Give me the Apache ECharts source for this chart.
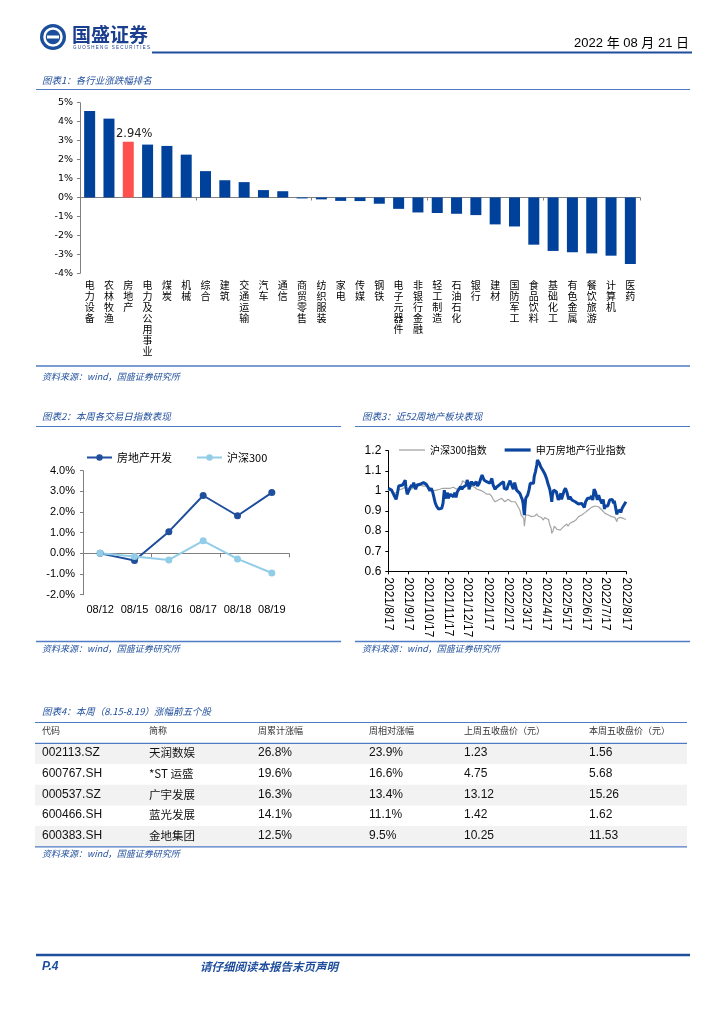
<!DOCTYPE html>
<html><head><meta charset="utf-8">
<script src="https://cdn.jsdelivr.net/npm/echarts@6/dist/echarts.min.js"></script>
<style>html,body{margin:0;padding:0;background:#fff}#c{width:724px;height:1024px}</style>
</head><body><div id="c"></div>
<script>
// ---------- Data ----------
const industries = ['电力设备','农林牧渔','房地产','电力及公用事业','煤炭','机械','综合','建筑','交通运输','汽车','通信','商贸零售','纺织服装','家电','传媒','钢铁','电子元器件','非银行金融','轻工制造','石油石化','银行','建材','国防军工','食品饮料','基础化工','有色金属','餐饮旅游','计算机','医药'];
const industryChange = [4.56,4.16,2.94,2.79,2.72,2.26,1.39,0.91,0.81,0.39,0.33,-0.05,-0.10,-0.18,-0.19,-0.33,-0.60,-0.79,-0.82,-0.86,-0.93,-1.42,-1.53,-2.49,-2.82,-2.89,-2.95,-3.07,-3.51];
const highlightIndustry = '房地产';
const chart1YTicks = [-4,5,1];

const weekDays = ['08/12','08/15','08/16','08/17','08/18','08/19'];
const realEstateDev = [0,-0.35,1.05,2.80,1.82,2.94];
const hs300Week = [0,-0.15,-0.32,0.61,-0.27,-0.95];

const monthTicks = ['2021/8/17','2021/9/17','2021/10/17','2021/11/17','2021/12/17','2022/1/17','2022/2/17','2022/3/17','2022/4/17','2022/5/17','2022/6/17','2022/7/17','2022/8/17'];
// [days since 2021/8/17, value]
const hs300Index = [[0,1.001],[3,0.996],[5,1.008],[8,0.988],[10,0.979],[13,0.991],[15,1.004],[18,1.001],[20,1.008],[23,1.008],[26,1.018],[28,0.996],[31,1.001],[33,1.004],[36,1.008],[38,1.013],[41,1.018],[44,1.018],[46,1.021],[49,1.029],[51,1.024],[54,1.024],[56,1.021],[59,1.024],[61,1.018],[64,1.013],[67,1.004],[69,1.001],[72,1.001],[74,1.004],[77,1.004],[79,1.008],[82,1.001],[84,1.013],[87,1.008],[90,1.013],[92,1.018],[95,1.013],[97,1.018],[100,1.018],[102,1.018],[105,1.008],[108,1.004],[110,1.018],[113,1.038],[114,1.051],[116,1.046],[118,1.041],[120,1.034],[123,1.021],[125,1.018],[128,1.024],[131,1.018],[133,1.018],[136,1.008],[138,1.001],[141,1.004],[143,0.996],[146,0.996],[148,0.988],[151,0.984],[154,0.979],[156,0.984],[159,0.971],[161,0.958],[164,0.946],[166,0.951],[169,0.955],[172,0.951],[174,0.963],[177,0.955],[179,0.946],[182,0.955],[184,0.958],[187,0.955],[189,0.946],[192,0.951],[195,0.946],[197,0.935],[200,0.938],[202,0.905],[204,0.880],[205,0.880],[207,0.880],[208,0.863],[209,0.825],[210,0.855],[211,0.880],[213,0.875],[215,0.880],[218,0.875],[220,0.872],[223,0.880],[225,0.875],[228,0.885],[230,0.875],[233,0.880],[235,0.868],[238,0.855],[240,0.868],[242,0.872],[243,0.863],[246,0.858],[248,0.830],[250,0.814],[251,0.789],[253,0.802],[255,0.825],[257,0.822],[259,0.809],[261,0.814],[264,0.805],[266,0.814],[269,0.822],[271,0.825],[274,0.835],[276,0.825],[279,0.839],[282,0.830],[284,0.847],[287,0.855],[289,0.858],[292,0.872],[294,0.875],[297,0.880],[299,0.888],[302,0.892],[305,0.897],[307,0.905],[310,0.908],[312,0.918],[315,0.925],[317,0.925],[320,0.930],[323,0.921],[325,0.913],[328,0.905],[330,0.897],[333,0.888],[335,0.885],[338,0.880],[340,0.880],[343,0.872],[346,0.875],[348,0.868],[351,0.847],[352,0.863],[354,0.858],[356,0.868],[358,0.868],[361,0.863],[364,0.868],[365,0.858]];
const swRealEstateIndex = [[0,1.013],[5,1.004],[8,1.008],[10,0.971],[12,0.958],[14,0.988],[16,1.024],[19,1.018],[22,1.029],[24,1.041],[26,1.054],[27,1.021],[29,0.983],[31,0.991],[33,1.013],[36,1.029],[37,1.018],[39,1.041],[42,1.008],[44,1.029],[46,1.034],[49,1.033],[51,1.038],[54,1.041],[56,1.047],[58,1.034],[60,1.024],[62,1.018],[64,1.001],[66,1.013],[68,0.996],[69,0.983],[70,0.988],[72,0.941],[74,0.925],[77,0.910],[79,0.905],[82,0.913],[84,0.938],[86,1.004],[87,0.979],[89,0.963],[91,0.991],[92,0.963],[95,0.983],[97,0.984],[100,0.971],[102,0.991],[104,0.968],[106,0.996],[109,1.004],[111,1.021],[113,1.008],[115,1.018],[118,1.024],[120,1.029],[121,1.054],[123,1.038],[124,1.008],[126,1.029],[128,1.046],[131,1.029],[133,1.021],[135,1.046],[137,1.024],[140,1.041],[142,1.062],[144,1.079],[146,1.074],[147,1.054],[149,1.062],[151,1.046],[154,1.054],[156,1.038],[159,1.062],[161,1.029],[164,1.008],[166,1.018],[169,1.024],[172,1.034],[174,1.038],[177,1.046],[178,1.013],[180,1.021],[182,1.008],[184,1.029],[187,1.051],[188,1.046],[190,1.024],[192,1.008],[194,1.041],[196,1.018],[197,1.004],[200,1.001],[202,0.988],[204,0.971],[206,0.955],[207,0.938],[208,0.905],[209,0.880],[210,0.925],[211,0.963],[212,0.955],[214,0.979],[216,1.004],[218,1.038],[219,1.029],[221,1.046],[223,1.038],[224,1.071],[226,1.096],[228,1.129],[229,1.154],[231,1.157],[232,1.137],[234,1.120],[235,1.129],[237,1.104],[239,1.112],[240,1.087],[242,1.096],[243,1.062],[245,1.038],[246,1.029],[248,1.008],[250,0.971],[251,0.946],[252,0.979],[254,1.004],[256,1.008],[258,0.996],[260,1.004],[261,0.955],[263,0.971],[265,0.988],[266,0.958],[268,0.979],[270,1.001],[272,1.013],[274,0.996],[275,0.988],[277,0.958],[279,0.971],[282,0.955],[284,0.958],[287,0.946],[289,0.938],[292,0.935],[294,0.930],[297,0.938],[299,0.930],[301,0.918],[303,0.946],[305,0.941],[306,0.963],[308,0.955],[310,0.963],[312,0.974],[314,0.955],[315,0.963],[316,1.008],[318,0.996],[320,0.991],[321,0.955],[323,0.979],[325,0.958],[327,0.955],[328,0.938],[330,0.958],[332,0.910],[333,0.925],[335,0.930],[337,0.925],[338,0.935],[340,0.955],[342,0.963],[344,0.958],[346,0.938],[347,0.951],[349,0.918],[351,0.883],[352,0.897],[354,0.888],[356,0.905],[357,0.892],[359,0.913],[361,0.925],[362,0.918],[364,0.941],[365,0.946]];

const tableHeader = ['代码','简称','周累计涨幅','周相对涨幅','上周五收盘价（元）','本周五收盘价（元）'];
const tableRows = [
  ['002113.SZ','天润数娱','26.8%','23.9%','1.23','1.56'],
  ['600767.SH','*ST 运盛','19.6%','16.6%','4.75','5.68'],
  ['000537.SZ','广宇发展','16.3%','13.4%','13.12','15.26'],
  ['600466.SH','蓝光发展','14.1%','11.1%','1.42','1.62'],
  ['600383.SH','金地集团','12.5%','9.5%','10.25','11.53']
];

// ---------- Helpers ----------
const CJK = "'Noto Sans CJK SC'";
const NUM = "'Liberation Sans','Noto Sans CJK SC'";
const BLUE = '#1F4E9C';
const LINEBLUE = '#4F7BC4';
const g = [];
function txt(x, y, text, o) {
  o = o || {};
  g.push({type:'text', z: 20, style:{x:x, y:y, text:text, fill:o.color||'#000',
    fontSize:o.size||10, fontFamily:o.family||CJK, fontStyle:o.style||'normal', fontWeight:o.weight||'normal',
    textAlign:o.align||'left', align:o.align||'left', textVerticalAlign:'middle', verticalAlign:'middle'}});
}
function hline(x1, x2, y, color, w) {
  g.push({type:'line', z: 15, shape:{x1:x1, y1:y, x2:x2, y2:y}, style:{stroke:color, lineWidth:w}});
}
function rect(x, y, w, h, fill) {
  g.push({type:'rect', z: 5, shape:{x:x, y:y, width:w, height:h}, style:{fill:fill}});
}

// Header
g.push({type:'circle', z:20, shape:{cx:53, cy:37, r:13}, style:{fill:'#1B4F9E'}});
g.push({type:'circle', z:21, shape:{cx:53, cy:37, r:8.5}, style:{fill:'none', stroke:'#fff', lineWidth:2.5}});
g.push({type:'rect', z:22, shape:{x:47, y:35.5, width:12, height:3}, style:{fill:'#fff'}});
txt(72, 35, '国盛证券', {size:19, weight:'bold', color:'#1B3F8F'});
txt(73, 47.5, 'G U O S H E N G   S E C U R I T I E S', {size:4.5, color:'#1B3F8F', family:NUM});
txt(689, 43, '2022 年 08 月 21 日', {size:13, family:NUM, align:'right', color:'#000'});
hline(152, 692, 52.5, BLUE, 2);

// Chart 1 frame
txt(42, 80, '图表1：各行业涨跌幅排名', {size:9.5, style:'italic', color:BLUE});
hline(36, 690, 89.5, LINEBLUE, 1.2);
hline(36, 690, 366, LINEBLUE, 1.5);
txt(42, 377, '资料来源：wind，国盛证券研究所', {size:9, style:'italic', color:BLUE});

// Chart 2 & 3 frames
txt(42, 416, '图表2：本周各交易日指数表现', {size:9.5, style:'italic', color:BLUE});
hline(36, 341, 426.5, LINEBLUE, 1.2);
hline(36, 341, 641.5, LINEBLUE, 1.5);
txt(42, 648.5, '资料来源：wind，国盛证券研究所', {size:9, style:'italic', color:BLUE});
txt(362, 416, '图表3：近52周地产板块表现', {size:9.5, style:'italic', color:BLUE});
hline(355, 690, 426.5, LINEBLUE, 1.2);
hline(355, 690, 641.5, LINEBLUE, 1.5);
txt(362, 648.5, '资料来源：wind，国盛证券研究所', {size:9, style:'italic', color:BLUE});

// Table
txt(42, 711.5, '图表4：本周（8.15-8.19）涨幅前五个股', {size:9.5, style:'italic', color:BLUE});
const colX = [42, 149, 258, 369, 464, 589];
hline(35, 687, 722.5, LINEBLUE, 1.2);
tableHeader.forEach((h, i) => txt(colX[i], 730.5, h, {size:9, color:'#333'}));
const rowTop = 743.3, rowH = 20.7;
tableRows.forEach((row, r) => {
  if (r % 2 === 0) rect(35, rowTop + r*rowH, 652, rowH, '#F2F2F2');
  row.forEach((cell, i) => {
    const isCjk = i === 1;
    txt(colX[i], rowTop + r*rowH + 9.5, cell, {size: isCjk ? 11.5 : 12, family: isCjk ? CJK : NUM, color:'#111'});
  });
});
hline(35, 687, 743.3, LINEBLUE, 1.2);
hline(35, 687, rowTop + 5*rowH, LINEBLUE, 1.2);
txt(42, 854, '资料来源：wind，国盛证券研究所', {size:9, style:'italic', color:BLUE});

// Footer
hline(36, 690, 955, BLUE, 2.5);
txt(42, 966.5, 'P.4', {size:12, style:'italic', weight:'bold', family:NUM, color:BLUE});
txt(200, 966.5, '请仔细阅读本报告末页声明', {size:11.5, style:'italic', weight:'bold', color:BLUE});

// ---------- Chart option ----------
const tickDays = monthTicks.map(s => { const p = s.split('/').map(Number); return Math.round((Date.UTC(p[0], p[1]-1, p[2]) - Date.UTC(2021,7,17)) / 864e5); });
const AXISGRAY = '#7F7F7F';

const barData = industries.map((name, i) => name === highlightIndustry
  ? {value: industryChange[i], itemStyle:{color:'#FF5050'},
     label:{show:true, position:'top', distance:2, offset:[6,0], formatter: industryChange[i].toFixed(2) + '%', fontSize:11.5, fontFamily:"'DejaVu Sans'", color:'#222'}}
  : industryChange[i]);

const option = {
  animation: false,
  textStyle: {fontFamily: NUM},
  graphic: {elements: g},
  grid: [
    {left:80, top:102.7, width:560, height:170.6},
    {left:83, top:470.7, width:206, height:124},
    {left:388.3, top:450.7, width:237.7, height:120.6}
  ],
  legend: [
    {data:['房地产开发','沪深300'], left:81, top:447, itemWidth:25, itemHeight:8, itemGap:24,
     textStyle:{fontSize:11, fontFamily:CJK, color:'#000'}},
    {data:[{name:'沪深300指数', icon:'path://M0,0 L26,0 L26,1.3 L0,1.3 Z'},
           {name:'申万房地产行业指数', icon:'path://M0,0 L26,0 L26,3.2 L0,3.2 Z'}],
     left:394, top:440, itemWidth:26, itemHeight:8, itemGap:18, symbolKeepAspect:true,
     textStyle:{fontSize:10, fontFamily:CJK, color:'#000'}}
  ],
  xAxis: [
    {gridIndex:0, type:'category', data:industries, position:'bottom',
     axisLine:{show:false, onZero:false}, axisTick:{show:false},
     axisLabel:{interval:0, margin:6, fontSize:10, lineHeight:11, fontFamily:CJK, color:'#000', verticalAlign:'top',
       formatter: v => v.split('').join('\n')}},
    {gridIndex:0, type:'category', data:industries, position:'bottom',
     axisLine:{show:true, onZero:true, lineStyle:{color:AXISGRAY, width:1}},
     axisTick:{show:true, length:3, lineStyle:{color:AXISGRAY}}, axisLabel:{show:false}},
    {gridIndex:1, type:'category', data:weekDays, position:'bottom',
     axisLine:{show:false, onZero:false}, axisTick:{show:false},
     axisLabel:{interval:0, margin:10, fontSize:11, fontFamily:NUM, color:'#000'}},
    {gridIndex:1, type:'category', data:weekDays, position:'bottom',
     axisLine:{show:true, onZero:true, lineStyle:{color:AXISGRAY, width:1}},
     axisTick:{show:true, length:4, lineStyle:{color:AXISGRAY}}, axisLabel:{show:false}},
    {gridIndex:2, type:'value', min:0, max:365, position:'bottom',
     axisLine:{show:true, onZero:false, lineStyle:{color:'#000', width:1}},
     axisTick:{show:true, length:3, customValues:tickDays, lineStyle:{color:'#000'}},
     splitLine:{show:false},
     axisLabel:{rotate:-90, margin:6, fontSize:12, fontFamily:NUM, color:'#000', customValues:tickDays,
       formatter: v => { const k = tickDays.indexOf(Math.round(v)); return k >= 0 ? monthTicks[k] : ''; }}}
  ],
  yAxis: [
    {gridIndex:0, type:'value', min:chart1YTicks[0], max:chart1YTicks[1], interval:chart1YTicks[2],
     axisLine:{show:true, onZero:false, lineStyle:{color:AXISGRAY}}, axisTick:{show:true, length:3, lineStyle:{color:AXISGRAY}},
     splitLine:{show:false},
     axisLabel:{formatter:'{value}%', fontSize:9.5, fontFamily:"'DejaVu Sans'", color:'#000', margin:7}},
    {gridIndex:1, type:'value', min:-2, max:4, interval:1,
     axisLine:{show:true, onZero:false, lineStyle:{color:AXISGRAY}}, axisTick:{show:true, length:3, lineStyle:{color:AXISGRAY}},
     splitLine:{show:false},
     axisLabel:{formatter: v => v.toFixed(1) + '%', fontSize:11, fontFamily:NUM, color:'#000', margin:8}},
    {gridIndex:2, type:'value', min:0.6, max:1.2, interval:0.1,
     axisLine:{show:true, onZero:false, lineStyle:{color:'#000'}}, axisTick:{show:true, length:3, lineStyle:{color:'#000'}},
     splitLine:{show:false},
     axisLabel:{formatter: v => String(Math.round(v*10)/10), fontSize:12, fontFamily:NUM, color:'#000', margin:7}}
  ],
  series: [
    {type:'bar', xAxisIndex:0, yAxisIndex:0, data:barData, barWidth:11, itemStyle:{color:'#00419B'}},
    {name:'房地产开发', type:'line', xAxisIndex:2, yAxisIndex:1, data:realEstateDev, symbol:'circle', symbolSize:7,
     lineStyle:{color:'#1F4E9C', width:2}, itemStyle:{color:'#1F4E9C'}},
    {name:'沪深300', type:'line', xAxisIndex:2, yAxisIndex:1, data:hs300Week, symbol:'circle', symbolSize:7,
     lineStyle:{color:'#92CDE8', width:2}, itemStyle:{color:'#92CDE8'}},
    {name:'沪深300指数', type:'line', xAxisIndex:4, yAxisIndex:2, data:hs300Index, symbol:'none',
     lineStyle:{color:'#A5A5A5', width:1.2}, itemStyle:{color:'#A5A5A5'}},
    {name:'申万房地产行业指数', type:'line', xAxisIndex:4, yAxisIndex:2, data:swRealEstateIndex, symbol:'none',
     lineStyle:{color:'#0B45A0', width:3}, itemStyle:{color:'#0B45A0'}}
  ]
};
const chart = echarts.init(document.getElementById('c'), null, {renderer:'canvas'});
chart.setOption(option);
</script></body></html>
